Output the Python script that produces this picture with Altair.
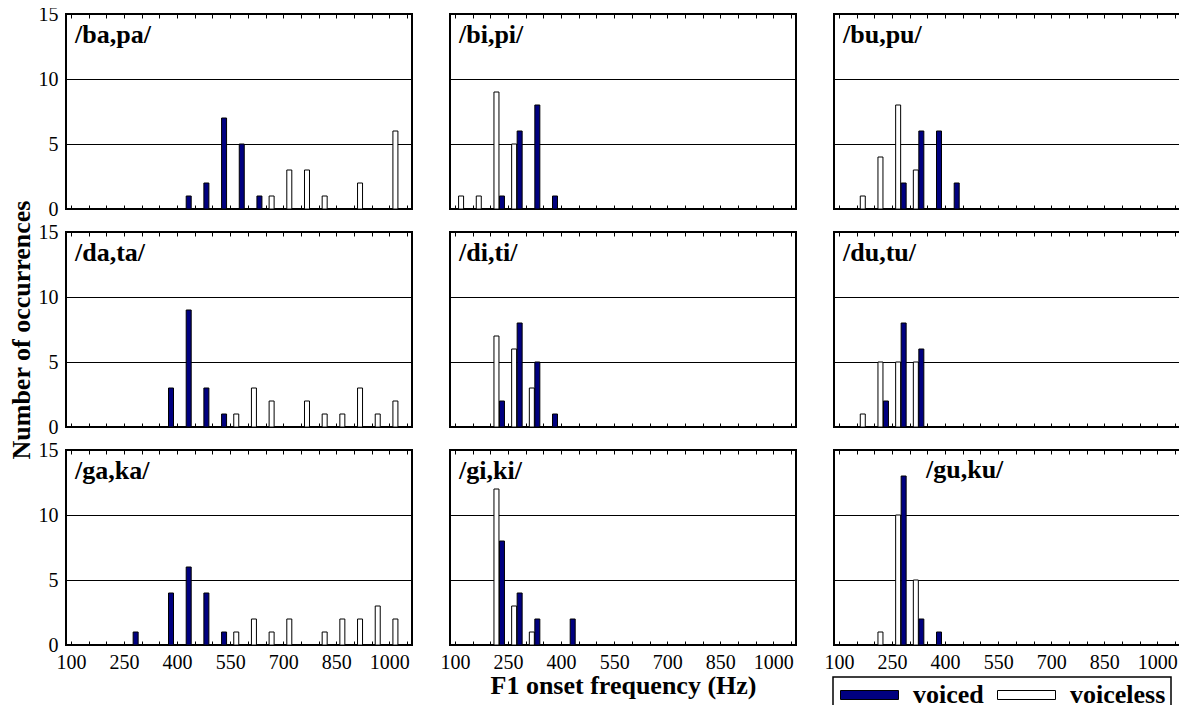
import altair as alt
import pandas as pd

# ---- data (bin centre in Hz, count) ----
panel_labels = ["/ba,pa/", "/bi,pi/", "/bu,pu/",
                "/da,ta/", "/di,ti/", "/du,tu/",
                "/ga,ka/", "/gi,ki/", "/gu,ku/"]

ba_voiced_hz = [425, 475, 525, 575, 625]
ba_voiced_n = [1, 2, 7, 5, 1]
ba_voiceless_hz = [675, 725, 775, 825, 925, 1025]
ba_voiceless_n = [1, 3, 3, 1, 2, 6]

bi_voiced_hz = [225, 275, 325, 375]
bi_voiced_n = [1, 6, 8, 1]
bi_voiceless_hz = [125, 175, 225, 275]
bi_voiceless_n = [1, 1, 9, 5]

bu_voiced_hz = [275, 325, 375, 425]
bu_voiced_n = [2, 6, 6, 2]
bu_voiceless_hz = [175, 225, 275, 325]
bu_voiceless_n = [1, 4, 8, 3]

da_voiced_hz = [375, 425, 475, 525]
da_voiced_n = [3, 9, 3, 1]
da_voiceless_hz = [575, 625, 675, 775, 825, 875, 925, 975, 1025]
da_voiceless_n = [1, 3, 2, 2, 1, 1, 3, 1, 2]

di_voiced_hz = [225, 275, 325, 375]
di_voiced_n = [2, 8, 5, 1]
di_voiceless_hz = [225, 275, 325]
di_voiceless_n = [7, 6, 3]

du_voiced_hz = [225, 275, 325]
du_voiced_n = [2, 8, 6]
du_voiceless_hz = [175, 225, 275, 325]
du_voiceless_n = [1, 5, 5, 5]

ga_voiced_hz = [275, 375, 425, 475, 525]
ga_voiced_n = [1, 4, 6, 4, 1]
ga_voiceless_hz = [575, 625, 675, 725, 825, 875, 925, 975, 1025]
ga_voiceless_n = [1, 2, 1, 2, 1, 2, 2, 3, 2]

gi_voiced_hz = [225, 275, 325, 425]
gi_voiced_n = [8, 4, 2, 2]
gi_voiceless_hz = [225, 275, 325]
gi_voiceless_n = [12, 3, 1]

gu_voiced_hz = [275, 325, 375]
gu_voiced_n = [13, 2, 1]
gu_voiceless_hz = [225, 275, 325]
gu_voiceless_n = [1, 10, 5]

series = [
    (ba_voiced_hz, ba_voiced_n, ba_voiceless_hz, ba_voiceless_n),
    (bi_voiced_hz, bi_voiced_n, bi_voiceless_hz, bi_voiceless_n),
    (bu_voiced_hz, bu_voiced_n, bu_voiceless_hz, bu_voiceless_n),
    (da_voiced_hz, da_voiced_n, da_voiceless_hz, da_voiceless_n),
    (di_voiced_hz, di_voiced_n, di_voiceless_hz, di_voiceless_n),
    (du_voiced_hz, du_voiced_n, du_voiceless_hz, du_voiceless_n),
    (ga_voiced_hz, ga_voiced_n, ga_voiceless_hz, ga_voiceless_n),
    (gi_voiced_hz, gi_voiced_n, gi_voiceless_hz, gi_voiceless_n),
    (gu_voiced_hz, gu_voiced_n, gu_voiceless_hz, gu_voiceless_n),
]

groups = ["voiced", "voiceless"]
x_ticks = list(range(100, 1051, 50))
y_ticks = [0, 5, 10, 15]
x_domain = [100, 1050]
y_domain = [0, 15]

FONT = "Liberation Serif"
NAVY = "#000080"
W, H = 346, 195
BAR_W = 5

x_scale = alt.Scale(domain=x_domain, nice=False, zero=False)
y_scale = alt.Scale(domain=y_domain, nice=False)
fill_scale = alt.Scale(domain=groups, range=[NAVY, "#ffffff"])


def panel(i):
    r, c = divmod(i, 3)
    vhz, vn, uhz, un = series[i]
    df = pd.DataFrame({
        "hz": vhz + uhz,
        "n": vn + un,
        "group": ["voiced"] * len(vhz) + ["voiceless"] * len(uhz),
    })
    base = alt.Chart(df)

    y_axis = alt.Axis(
        values=y_ticks, grid=True, gridColor="black", gridWidth=1, gridOpacity=1,
        ticks=False, domain=False, labels=(c == 0), labelPadding=8,
        labelFlush=False,
        title=("Number of occurrences" if (c == 0 and r == 1) else None),
        titlePadding=4,
    )
    bottom_axis = alt.Axis(
        orient="bottom", values=x_ticks, format="d",
        labelExpr="datum.value % 150 == 100 ? datum.label : ''",
        labels=(r == 2), labelFlush=False, labelOverlap=False, labelPadding=7,
        tickSize=4, offset=-4, tickColor="black", domain=False, grid=False,
        title=("F1 onset frequency (Hz)" if i == 7 else None), titlePadding=0,
    )
    top_axis = alt.Axis(
        orient="top", values=x_ticks, labels=False, tickSize=4, offset=-4,
        tickColor="black", domain=False, grid=False, title=None,
    )
    fill = alt.Fill("group:N", scale=fill_scale, legend=alt.Legend(title=None))

    voiceless = base.transform_filter(alt.datum.group == "voiceless").mark_bar(
        width=BAR_W, xOffset=-2.75, stroke="black", strokeWidth=1
    ).encode(
        x=alt.X("hz:Q", scale=x_scale, axis=bottom_axis),
        y=alt.Y("n:Q", scale=y_scale, axis=y_axis),
        fill=fill,
    )
    voiced = base.transform_filter(alt.datum.group == "voiced").mark_bar(
        width=BAR_W, xOffset=2.75, stroke="black", strokeWidth=1
    ).encode(
        x=alt.X("hz:Q", scale=x_scale, axis=top_axis),
        y=alt.Y("n:Q", scale=y_scale),
        fill=fill,
    )
    lx, ly = (92, 28) if i == 8 else (9, 29)
    label = alt.Chart(pd.DataFrame({"label": [panel_labels[i]]})).mark_text(
        font=FONT, fontSize=26, fontWeight="bold", align="left",
        baseline="alphabetic", color="black",
    ).encode(text="label:N", x=alt.value(lx), y=alt.value(ly))

    return alt.layer(voiceless, voiced, label).resolve_axis(x="independent").properties(
        width=W, height=H
    )


chart = alt.concat(
    *[panel(i) for i in range(9)], columns=3,
    spacing=alt.RowColnumber(row=23, column=38),
).resolve_scale(fill="shared").properties(
    padding={"left": -2, "top": -5, "right": -2, "bottom": -9},
    bounds="flush",
).configure_view(
    stroke="black", strokeWidth=2
).configure_axis(
    labelFont=FONT, labelFontSize=20, labelColor="black",
    titleFont=FONT, titleFontSize=26, titleFontWeight="bold", titleColor="black",
).configure_legend(
    orient="none", legendX=767, legendY=663, direction="horizontal",
    strokeColor="black", strokeWidth=1.5, fillColor="white", padding=5,
    symbolType="M-1.05,-0.45H4.75V0.45H-1.05Z", symbolSize=400,
    symbolStrokeColor="black", symbolStrokeWidth=1,
    labelFont=FONT, labelFontSize=26, labelFontWeight="bold", labelColor="black",
    labelOffset=49, columnPadding=11,
)

chart.save("out.html", embed_options={"renderer": "svg", "actions": False})
